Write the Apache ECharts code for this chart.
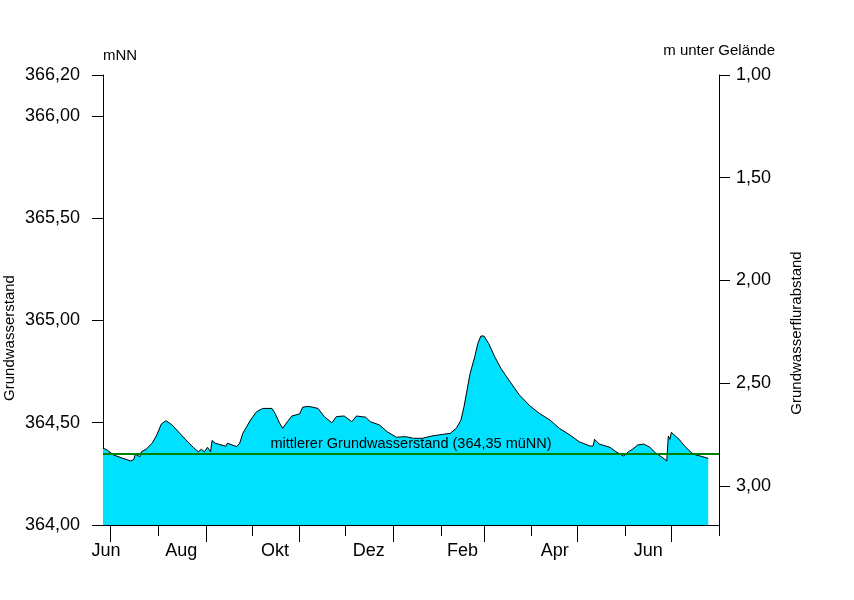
<!DOCTYPE html>
<html>
<head>
<meta charset="utf-8">
<script src="https://cdn.jsdelivr.net/npm/echarts@6/dist/echarts.min.js"></script>
<style>
  html, body { margin: 0; padding: 0; background: #fff; }
  #chart { width: 854px; height: 600px; }
</style>
</head>
<body>
<div id="chart"></div>
<script>
// Messwerte (Datum, Grundwasserstand in mNN)
const dates = [
  '2022-06-26', '2022-06-28', '2022-07-03', '2022-07-09', '2022-07-14', '2022-07-16',
  '2022-07-17', '2022-07-20', '2022-07-21', '2022-07-24', '2022-07-28', '2022-07-31',
  '2022-08-03', '2022-08-06', '2022-08-10', '2022-08-15', '2022-08-19', '2022-08-24',
  '2022-08-27', '2022-08-29', '2022-08-31', '2022-09-02', '2022-09-04', '2022-09-05',
  '2022-09-07', '2022-09-14', '2022-09-15', '2022-09-21', '2022-09-23', '2022-09-25',
  '2022-09-30', '2022-10-04', '2022-10-08', '2022-10-14', '2022-10-16', '2022-10-19',
  '2022-10-21', '2022-10-24', '2022-10-27', '2022-11-01', '2022-11-03', '2022-11-07',
  '2022-11-13', '2022-11-17', '2022-11-22', '2022-11-25', '2022-11-30', '2022-12-05',
  '2022-12-08', '2022-12-14', '2022-12-17', '2022-12-23', '2022-12-28', '2023-01-03',
  '2023-01-09', '2023-01-14', '2023-01-20', '2023-01-26', '2023-02-02', '2023-02-07',
  '2023-02-11', '2023-02-14', '2023-02-16', '2023-02-18', '2023-02-20', '2023-02-23',
  '2023-02-25', '2023-02-27', '2023-03-01', '2023-03-04', '2023-03-08', '2023-03-12',
  '2023-03-18', '2023-03-24', '2023-03-31', '2023-04-06', '2023-04-13', '2023-04-19',
  '2023-04-26', '2023-05-02', '2023-05-09', '2023-05-11', '2023-05-12', '2023-05-15',
  '2023-05-22', '2023-05-26', '2023-05-31', '2023-06-03', '2023-06-06', '2023-06-09',
  '2023-06-13', '2023-06-17', '2023-06-21', '2023-06-25', '2023-06-28', '2023-06-29',
  '2023-06-30', '2023-07-01', '2023-07-06', '2023-07-10', '2023-07-14', '2023-07-17',
  '2023-07-20', '2023-07-25'
];
const levels = [
  364.375, 364.370, 364.342, 364.326, 364.313, 364.320,
  364.346, 364.334, 364.358, 364.370, 364.400, 364.440,
  364.494, 364.510, 364.489, 364.448, 364.416, 364.378,
  364.358, 364.370, 364.358, 364.380, 364.358, 364.413,
  364.400, 364.385, 364.400, 364.383, 364.400, 364.448,
  364.513, 364.554, 364.570, 364.570, 364.546, 364.497,
  364.473, 364.505, 364.533, 364.543, 364.576, 364.580,
  364.570, 364.530, 364.500, 364.530, 364.533, 364.505,
  364.533, 364.527, 364.505, 364.489, 364.456, 364.429,
  364.432, 364.424, 364.424, 364.435, 364.443, 364.448,
  364.473, 364.513, 364.578, 364.660, 364.742, 364.823,
  364.888, 364.924, 364.924, 364.888, 364.823, 364.766,
  364.700, 364.636, 364.582, 364.546, 364.513, 364.473,
  364.440, 364.407, 364.386, 364.386, 364.419, 364.396,
  364.380, 364.358, 364.337, 364.358, 364.372, 364.391,
  364.396, 364.380, 364.350, 364.331, 364.313, 364.435,
  364.419, 364.453, 364.419, 364.383, 364.354, 364.342,
  364.337, 364.326
];
const meanLevel = 364.35;

// Achsen
const xStart = '2022-06-26';
const xEnd = '2023-08-01';
const longTickDates = ['2022-07-01', '2022-09-01', '2022-11-01', '2023-01-01', '2023-03-01', '2023-05-01', '2023-07-01'];
const shortTickDates = ['2022-08-01', '2022-10-01', '2022-12-01', '2023-02-01', '2023-04-01', '2023-06-01', '2023-08-01'];
const monthLabelDates = ['2022-06-28', '2022-08-16', '2022-10-16', '2022-12-16', '2023-02-15', '2023-04-16', '2023-06-16'];
const monthLabels = ['Jun', 'Aug', 'Okt', 'Dez', 'Feb', 'Apr', 'Jun'];
const leftTicks = [364.0, 364.5, 365.0, 365.5, 366.0, 366.2];
const rightTicks = [1.0, 1.5, 2.0, 2.5, 3.0];

// Tage seit Achsenbeginn
const DAY = 86400000;
const day = s => Math.round((Date.UTC(...s.split('-').map((p, i) => i === 1 ? p - 1 : +p)) -
  Date.UTC(2022, 5, 26)) / DAY);
const labelDays = monthLabelDates.map(day);
const comma = v => v.toFixed(2).replace('.', ',');
const FONT = '"Liberation Sans", Arial, sans-serif';

const chart = echarts.init(document.getElementById('chart'));

const baseX = {
  type: 'value',
  position: 'bottom',
  min: day(xStart),
  max: day(xEnd),
  splitLine: { show: false },
  axisLine: { show: false, onZero: false },
  axisLabel: { show: false },
  axisTick: { show: false }
};

chart.setOption({
  animation: false,
  backgroundColor: '#fff',
  grid: { left: 103, right: 135, top: 75, bottom: 75 },
  xAxis: [
    Object.assign({}, baseX, {
      axisLine: { show: true, onZero: false, lineStyle: { color: '#000', width: 1 } },
      axisLabel: {
        show: true,
        customValues: labelDays,
        margin: 17,
        color: '#000',
        fontSize: 18,
        fontFamily: FONT,
        formatter: v => monthLabels[labelDays.indexOf(v)] || ''
      }
    }),
    Object.assign({}, baseX, {
      axisTick: { show: true, customValues: longTickDates.map(day), length: 17,
        lineStyle: { color: '#000', width: 1 } }
    }),
    Object.assign({}, baseX, {
      axisTick: { show: true, customValues: shortTickDates.map(day), length: 11,
        lineStyle: { color: '#000', width: 1 } }
    })
  ],
  yAxis: [
    {
      type: 'value',
      position: 'left',
      min: 364.0,
      max: 366.2,
      splitLine: { show: false },
      axisLine: { show: true, onZero: false, lineStyle: { color: '#000', width: 1 } },
      axisTick: { show: true, customValues: leftTicks, length: 11,
        lineStyle: { color: '#000' } },
      axisLabel: { customValues: leftTicks, margin: 23, color: '#000',
        fontSize: 18, fontFamily: FONT, formatter: comma }
    },
    {
      type: 'value',
      position: 'right',
      inverse: true,
      min: 1.0,
      max: 3.19,
      splitLine: { show: false },
      axisLine: { show: true, onZero: false, lineStyle: { color: '#000', width: 1 } },
      axisTick: { show: true, customValues: rightTicks, length: 11,
        lineStyle: { color: '#000' } },
      axisLabel: { customValues: rightTicks, margin: 17, color: '#000',
        fontSize: 18, fontFamily: FONT, formatter: comma }
    }
  ],
  graphic: [
    { type: 'text', x: 103, y: 56,
      style: { text: 'mNN', fill: '#000', font: '15px ' + FONT, align: 'left', verticalAlign: 'middle' } },
    { type: 'text', x: 775, y: 51,
      style: { text: 'm unter Gelände', fill: '#000', font: '15px ' + FONT, align: 'right', verticalAlign: 'middle' } },
    { type: 'text', x: 10, y: 338, rotation: Math.PI / 2,
      style: { text: 'Grundwasserstand', fill: '#000', font: '15px ' + FONT, align: 'center', verticalAlign: 'middle' } },
    { type: 'text', x: 797, y: 333, rotation: Math.PI / 2,
      style: { text: 'Grundwasserflurabstand', fill: '#000', font: '15px ' + FONT, align: 'center', verticalAlign: 'middle' } }
  ],
  series: [
    {
      type: 'line',
      xAxisIndex: 0,
      yAxisIndex: 0,
      data: dates.map((d, i) => [day(d), levels[i]]),
      showSymbol: false,
      symbol: 'none',
      lineStyle: { color: '#000', width: 1 },
      areaStyle: { color: '#00E0FF', opacity: 1, origin: 'start' },
      markLine: {
        silent: true,
        symbol: 'none',
        lineStyle: { color: '#008000', width: 2, type: 'solid' },
        label: {
          show: true,
          position: 'middle',
          distance: 2,
          color: '#000',
          fontSize: 14.5,
          fontFamily: FONT,
          formatter: 'mittlerer Grundwasserstand (364,35 müNN)'
        },
        data: [{ yAxis: meanLevel }]
      }
    }
  ]
});
</script>
</body>
</html>
